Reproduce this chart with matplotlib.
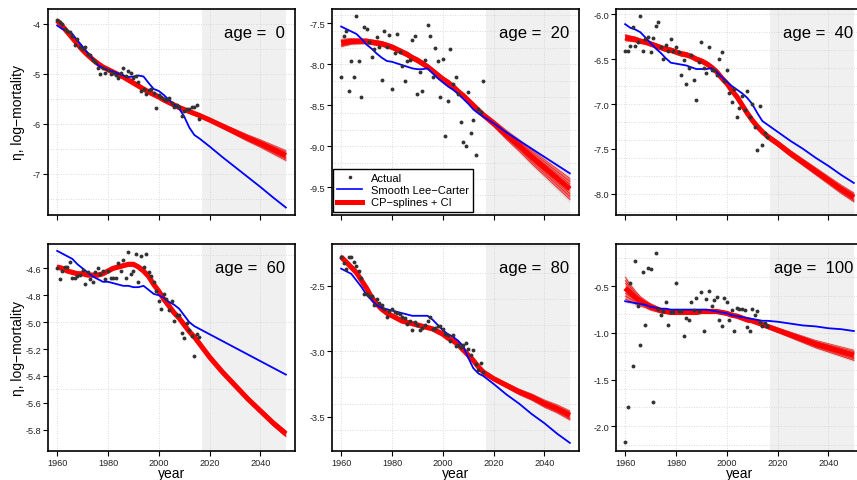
import numpy as np
import matplotlib
matplotlib.use("Agg")
import matplotlib.pyplot as plt
from matplotlib.lines import Line2D
from matplotlib.ticker import FixedLocator, FormatStrFormatter

plt.rcParams['font.family'] = ['Liberation Sans', 'DejaVu Sans']

# ---------------------------------------------------------------- data
obs_years = list(range(1960, 2017))
line_years = list(range(1960, 2017, 2)) + [2020, 2025, 2030, 2035, 2040, 2045, 2050]
ages = [0, 20, 40, 60, 80, 100]

# observed log-mortality
obs_age0 = [-3.92, -3.95, -4.00, -4.10, -4.13, -4.15, -4.23, -4.42, -4.29, -4.45,
            -4.49, -4.45, -4.60, -4.62, -4.71, -4.75, -4.87, -5.00, -4.89, -4.98,
            -4.92, -5.00, -4.97, -5.02, -5.07, -4.97, -4.87, -5.03, -4.93, -4.97,
            -5.07, -5.03, -5.15, -5.33, -5.30, -5.40, -5.32, -5.30, -5.38, -5.67,
            -5.42, -5.45, -5.50, -5.51, -5.47, -5.58, -5.65, -5.62, -5.65, -5.83,
            -5.73, -5.70, -5.70, -5.65, -5.65, -5.62, -5.90]
obs_age20 = [-8.15, -7.66, -7.60, -8.32, -7.96, -8.16, -7.41, -7.96, -8.40, -7.55,
             -7.57, -7.73, -7.91, -7.81, -7.67, -7.79, -8.19, -7.60, -7.79, -7.64,
             -8.30, -7.86, -7.63, -7.85, -8.02, -8.20, -7.96, -7.95, -7.71, -7.65,
             -8.36, -8.09, -8.33, -7.95, -7.52, -7.66, -8.15, -7.80, -7.96, -8.40,
             -7.94, -8.87, -8.45, -7.81, -8.24, -8.15, -8.36, -8.70, -8.95, -9.00,
             -8.34, -8.84, -8.68, -9.11, -8.55, -8.58, -8.20]
obs_age40 = [-6.41, -6.41, -6.35, -6.14, -6.35, -6.31, -6.02, -6.41, -6.28, -6.25,
             -6.42, -6.26, -6.13, -6.09, -6.37, -6.50, -6.34, -6.41, -6.27, -6.41,
             -6.37, -6.42, -6.68, -6.51, -6.78, -6.60, -6.45, -6.73, -6.96, -6.53,
             -6.31, -6.60, -6.65, -6.37, -6.62, -6.62, -6.68, -6.50, -6.42, -6.74,
             -6.62, -6.88, -6.98, -6.83, -7.14, -7.04, -6.91, -7.07, -6.85, -7.14,
             -7.00, -7.26, -7.51, -7.02, -7.46, -7.32, -7.37]
obs_age60 = [-4.60, -4.68, -4.62, -4.59, -4.59, -4.55, -4.67, -4.67, -4.66, -4.65,
             -4.61, -4.72, -4.63, -4.68, -4.70, -4.63, -4.60, -4.64, -4.62, -4.68,
             -4.62, -4.67, -4.67, -4.67, -4.56, -4.62, -4.54, -4.67, -4.48, -4.64,
             -4.62, -4.49, -4.70, -4.51, -4.59, -4.49, -4.63, -4.66, -4.70, -4.77,
             -4.84, -4.90, -4.79, -4.83, -4.91, -4.84, -4.99, -4.95, -4.95, -5.08,
             -5.12, -5.01, -5.06, -5.10, -5.25, -5.09, -5.11]
obs_age80 = [-2.28, -2.33, -2.37, -2.28, -2.28, -2.32, -2.35, -2.39, -2.44, -2.56,
             -2.56, -2.58, -2.58, -2.65, -2.60, -2.63, -2.65, -2.68, -2.74, -2.69,
             -2.68, -2.70, -2.71, -2.72, -2.74, -2.75, -2.79, -2.77, -2.84, -2.78,
             -2.80, -2.84, -2.82, -2.80, -2.77, -2.74, -2.83, -2.82, -2.81, -2.81,
             -2.83, -2.87, -2.88, -2.92, -2.88, -2.96, -2.95, -2.97, -2.95, -2.94,
             -2.98, -3.03, -2.99, -3.10, -3.14, -3.09, -3.16]
obs_age100 = [-2.17, -1.79, -0.46, -1.36, -0.23, -0.71, -1.13, -0.35, -0.92, -0.30,
              -0.31, -1.74, -0.14, -0.74, -0.81, -0.77, -0.67, -0.91, -0.78, -0.78,
              -0.46, -0.76, -0.76, -1.03, -0.84, -0.86, -0.67, -0.75, -0.63, -0.76,
              -0.56, -0.98, -0.64, -0.55, -0.71, -0.65, -0.61, -0.86, -0.93, -0.63,
              -0.67, -0.86, -0.75, -0.98, -0.73, -0.74, -0.74, -0.75, -0.94, -0.98,
              -0.74, -0.81, -0.77, -0.88, -0.93, -0.89, -0.93]

# smooth Lee-Carter fit and forecast
lc_age0 = [-4.03, -4.10, -4.13, -4.20, -4.33, -4.45, -4.58, -4.70, -4.82, -4.88,
           -4.92, -4.95, -4.99, -5.03, -5.06, -5.05, -5.03, -5.05, -5.18, -5.30,
           -5.34, -5.42, -5.52, -5.61, -5.69, -5.85, -6.07, -6.22, -6.29,
           -6.45, -6.66, -6.86, -7.06, -7.26, -7.47, -7.67]
lc_age20 = [-7.54, -7.57, -7.60, -7.63, -7.69, -7.76, -7.81, -7.87, -7.92, -7.96,
            -7.97, -7.99, -8.01, -8.03, -8.05, -8.06, -8.06, -8.05, -8.11, -8.17,
            -8.22, -8.27, -8.31, -8.36, -8.42, -8.48, -8.55, -8.60, -8.64,
            -8.72, -8.83, -8.93, -9.03, -9.13, -9.23, -9.33]
lc_age40 = [-6.11, -6.15, -6.17, -6.20, -6.26, -6.32, -6.38, -6.43, -6.49, -6.54,
            -6.55, -6.56, -6.57, -6.59, -6.61, -6.61, -6.61, -6.60, -6.64, -6.70,
            -6.75, -6.80, -6.84, -6.88, -6.93, -7.00, -7.10, -7.19, -7.23,
            -7.31, -7.41, -7.50, -7.60, -7.69, -7.79, -7.88]
lc_age60 = [-4.47, -4.49, -4.51, -4.53, -4.57, -4.60, -4.63, -4.66, -4.68, -4.70,
            -4.70, -4.71, -4.72, -4.73, -4.73, -4.74, -4.74, -4.73, -4.76, -4.79,
            -4.80, -4.82, -4.85, -4.87, -4.90, -4.95, -5.00, -5.03, -5.05,
            -5.09, -5.14, -5.19, -5.24, -5.29, -5.34, -5.39]
lc_age80 = [-2.37, -2.39, -2.41, -2.46, -2.51, -2.57, -2.61, -2.65, -2.67, -2.68,
            -2.69, -2.70, -2.71, -2.72, -2.73, -2.73, -2.73, -2.73, -2.76, -2.80,
            -2.84, -2.87, -2.89, -2.92, -2.96, -3.05, -3.13, -3.17, -3.19,
            -3.25, -3.33, -3.40, -3.48, -3.55, -3.63, -3.70]
lc_age100 = [-0.66, -0.67, -0.68, -0.69, -0.70, -0.72, -0.73, -0.74, -0.74, -0.75,
             -0.75, -0.75, -0.75, -0.75, -0.75, -0.75, -0.75, -0.76, -0.77, -0.78,
             -0.79, -0.81, -0.82, -0.83, -0.84, -0.85, -0.86, -0.87, -0.87,
             -0.88, -0.90, -0.92, -0.93, -0.95, -0.96, -0.98]

# CP-splines fit and forecast
cp_age0 = [-3.93, -4.04, -4.16, -4.28, -4.40, -4.52, -4.62, -4.71, -4.79, -4.86,
           -4.91, -4.96, -5.01, -5.06, -5.12, -5.18, -5.24, -5.30, -5.36, -5.41,
           -5.46, -5.52, -5.57, -5.62, -5.67, -5.71, -5.75, -5.79, -5.83,
           -5.92, -6.04, -6.16, -6.28, -6.39, -6.51, -6.63]
cp_age20 = [-7.74, -7.73, -7.72, -7.72, -7.72, -7.72, -7.73, -7.74, -7.75, -7.77,
            -7.79, -7.82, -7.85, -7.88, -7.92, -7.95, -7.99, -8.03, -8.08, -8.13,
            -8.18, -8.22, -8.27, -8.33, -8.38, -8.44, -8.50, -8.56, -8.62,
            -8.72, -8.86, -8.99, -9.13, -9.26, -9.39, -9.52]
cp_age40 = [-6.26, -6.27, -6.28, -6.30, -6.31, -6.33, -6.35, -6.37, -6.39, -6.40,
            -6.42, -6.44, -6.45, -6.47, -6.50, -6.52, -6.55, -6.59, -6.64, -6.71,
            -6.77, -6.85, -6.92, -7.01, -7.10, -7.18, -7.25, -7.31, -7.36,
            -7.44, -7.55, -7.65, -7.75, -7.85, -7.95, -8.04]
cp_age60 = [-4.59, -4.60, -4.62, -4.63, -4.64, -4.64, -4.65, -4.65, -4.65, -4.64,
            -4.62, -4.60, -4.59, -4.58, -4.57, -4.57, -4.59, -4.62, -4.66, -4.72,
            -4.77, -4.83, -4.88, -4.93, -4.97, -5.02, -5.07, -5.11, -5.16,
            -5.26, -5.37, -5.47, -5.57, -5.66, -5.75, -5.83]
cp_age80 = [-2.28, -2.32, -2.36, -2.40, -2.46, -2.52, -2.59, -2.64, -2.68, -2.71,
            -2.73, -2.75, -2.77, -2.78, -2.79, -2.80, -2.81, -2.82, -2.83, -2.85,
            -2.87, -2.90, -2.92, -2.95, -2.99, -3.03, -3.07, -3.12, -3.16,
            -3.21, -3.26, -3.31, -3.35, -3.40, -3.44, -3.49]
cp_age100 = [-0.52, -0.57, -0.62, -0.66, -0.69, -0.72, -0.74, -0.76, -0.77, -0.78,
             -0.78, -0.78, -0.78, -0.78, -0.78, -0.77, -0.77, -0.77, -0.77, -0.78,
             -0.79, -0.81, -0.82, -0.84, -0.86, -0.87, -0.89, -0.91, -0.93,
             -0.97, -1.02, -1.07, -1.12, -1.16, -1.20, -1.24]

# half-width of the CP-splines confidence band
ci_age0 = [0.030, 0.025, 0.022, 0.020, 0.020, 0.020, 0.020, 0.020, 0.020, 0.020,
           0.020, 0.020, 0.020, 0.020, 0.020, 0.020, 0.020, 0.020, 0.020, 0.020,
           0.020, 0.020, 0.020, 0.020, 0.020, 0.022, 0.024, 0.026, 0.028,
           0.035, 0.045, 0.055, 0.065, 0.075, 0.088, 0.100]
ci_age20 = [0.045, 0.040, 0.035, 0.032, 0.030, 0.030, 0.030, 0.030, 0.030, 0.030,
            0.030, 0.030, 0.030, 0.030, 0.030, 0.030, 0.030, 0.030, 0.030, 0.030,
            0.030, 0.030, 0.030, 0.030, 0.030, 0.030, 0.030, 0.030, 0.032,
            0.040, 0.055, 0.070, 0.085, 0.100, 0.115, 0.130]
ci_age40 = [0.035, 0.030, 0.028, 0.025, 0.025, 0.025, 0.025, 0.025, 0.025, 0.025,
            0.025, 0.025, 0.025, 0.025, 0.025, 0.025, 0.025, 0.025, 0.025, 0.025,
            0.025, 0.025, 0.025, 0.025, 0.025, 0.025, 0.025, 0.026, 0.028,
            0.030, 0.033, 0.036, 0.040, 0.043, 0.047, 0.050]
ci_age60 = [0.014, 0.013, 0.012, 0.012, 0.012, 0.012, 0.012, 0.012, 0.012, 0.012,
            0.012, 0.012, 0.012, 0.012, 0.012, 0.012, 0.012, 0.012, 0.012, 0.012,
            0.012, 0.012, 0.012, 0.012, 0.012, 0.012, 0.012, 0.012, 0.013,
            0.014, 0.015, 0.016, 0.017, 0.018, 0.020, 0.022]
ci_age80 = [0.014, 0.013, 0.012, 0.012, 0.012, 0.012, 0.012, 0.012, 0.012, 0.012,
            0.012, 0.012, 0.012, 0.012, 0.012, 0.012, 0.012, 0.012, 0.012, 0.012,
            0.012, 0.012, 0.012, 0.012, 0.012, 0.012, 0.012, 0.012, 0.013,
            0.015, 0.018, 0.021, 0.024, 0.028, 0.031, 0.035]
ci_age100 = [0.120, 0.090, 0.070, 0.050, 0.040, 0.035, 0.030, 0.025, 0.022, 0.020,
             0.020, 0.020, 0.020, 0.020, 0.020, 0.020, 0.020, 0.020, 0.020, 0.020,
             0.020, 0.020, 0.020, 0.020, 0.020, 0.020, 0.020, 0.020, 0.022,
             0.025, 0.030, 0.035, 0.040, 0.045, 0.050, 0.055]

legend_labels = ["Actual", "Smooth Lee\u2212Carter", "CP\u2212splines + CI"]

# ---------------------------------------------------------------- layout
W, H = 857, 481
fig = plt.figure(figsize=(W / 100, H / 100), dpi=100)


def px_rect(left, top, w, h):
    return [left / W, 1 - (top + h) / H, w / W, h / H]


panels = [
    dict(obs=obs_age0, lc=lc_age0, cp=cp_age0, ci=ci_age0, rect=px_rect(48, 10, 247, 206),
         ylim=(-7.82, -3.70), yticks=[-7, -6, -5, -4], fmt='%.0f', grid=0.5),
    dict(obs=obs_age20, lc=lc_age20, cp=cp_age20, ci=ci_age20, rect=px_rect(332, 10, 247, 206),
         ylim=(-9.838, -7.326), yticks=[-9.5, -9.0, -8.5, -8.0, -7.5], fmt='%.1f', grid=0.2),
    dict(obs=obs_age40, lc=lc_age40, cp=cp_age40, ci=ci_age40, rect=px_rect(616, 10, 247, 206),
         ylim=(-8.237, -5.941), yticks=[-8.0, -7.5, -7.0, -6.5, -6.0], fmt='%.1f', grid=0.2),
    dict(obs=obs_age60, lc=lc_age60, cp=cp_age60, ci=ci_age60, rect=px_rect(48, 245, 247, 207),
         ylim=(-5.958, -4.419), yticks=[-5.8, -5.6, -5.4, -5.2, -5.0, -4.8, -4.6], fmt='%.1f', grid=0.5),
    dict(obs=obs_age80, lc=lc_age80, cp=cp_age80, ci=ci_age80, rect=px_rect(332, 245, 247, 207),
         ylim=(-3.762, -2.182), yticks=[-3.5, -3.0, -2.5], fmt='%.1f', grid=0.2),
    dict(obs=obs_age100, lc=lc_age100, cp=cp_age100, ci=ci_age100, rect=px_rect(616, 245, 247, 207),
         ylim=(-2.267, -0.046), yticks=[-2.0, -1.5, -1.0, -0.5], fmt='%.1f', grid=0.2),
]

forecast_start, forecast_end = 2017, 2050
xticks = [1960, 1980, 2000, 2020, 2040]
grid_kw = dict(color='#cfcfcf', lw=0.6, ls=(0, (1, 2)), zorder=0.5)

yrs = np.array(line_years)
for k, (age, p) in enumerate(zip(ages, panels)):
    ax = fig.add_axes(p['rect'])
    ax.set_xlim(1956.4, 2053.6)
    ax.set_ylim(*p['ylim'])

    # forecast period shading
    ax.axvspan(forecast_start, forecast_end, color='#f0f0f0', lw=0, zorder=0)

    # dotted grid
    for gx in xticks:
        ax.axvline(gx, **grid_kw)
    lo_g = np.ceil(p['ylim'][0] / p['grid'] - 1e-9) * p['grid']
    for gy in np.arange(lo_g, p['ylim'][1], p['grid']):
        ax.axhline(gy, **grid_kw)

    cp = np.array(p['cp'])
    ci = np.array(p['ci'])
    # confidence band
    ax.fill_between(yrs, cp - 1.3 * ci, cp + 1.3 * ci, color='#dcc8c8', alpha=0.6, lw=0, zorder=1)
    ax.fill_between(yrs, cp - ci, cp + ci, color='#ff2020', alpha=0.55, lw=0, zorder=1.1)
    for f in (1.0, 0.7, 0.45, -0.45, -0.7, -1.0):
        ax.plot(yrs, cp + f * ci, color='#e00000', lw=0.5, alpha=0.8, zorder=1.2)
    ax.plot(yrs, cp, color='red', lw=3.7, zorder=2, solid_capstyle='butt')
    ax.plot(yrs, p['lc'], color='blue', lw=1.3, zorder=3)
    ax.plot(obs_years, p['obs'], 'o', ms=2.8, color='#333333', mec='none', zorder=4)

    # axes styling
    for s in ax.spines.values():
        s.set_linewidth(1.2)
        s.set_zorder(5)
    ax.xaxis.set_major_locator(FixedLocator(xticks))
    ax.yaxis.set_major_locator(FixedLocator(p['yticks']))
    ax.yaxis.set_major_formatter(FormatStrFormatter(p['fmt']))
    ax.tick_params(direction='out', length=3.5, width=0.8, labelsize=6.6, pad=1.5,
                   labelcolor='#222222')
    if k < 3:
        ax.tick_params(axis='x', labelbottom=False)
    else:
        ax.set_xlabel('year', fontsize=10)
        ax.xaxis.set_label_coords(0.5, -0.072)
    if k % 3 == 0:
        ax.set_ylabel('\u03b7, log\u2212mortality', fontsize=10)
        ax.yaxis.set_label_coords(-0.092, 0.5)

    ax.text(0.96, 0.865, f'age =  {age}', transform=ax.transAxes,
            ha='right', va='baseline', fontsize=12, zorder=6)

    if k == 1:
        handles = [Line2D([], [], marker='o', ls='none', color='#333333', ms=2.6, mec='none'),
                   Line2D([], [], color='blue', lw=1.2),
                   Line2D([], [], color='red', lw=3.6)]
        leg = ax.legend(handles, legend_labels, loc='lower left', bbox_to_anchor=(0.004, 0.015),
                        fontsize=8, frameon=True, fancybox=False, edgecolor='black',
                        framealpha=1, borderpad=0.4, handlelength=2.2, handletextpad=0.8,
                        labelspacing=0.2, borderaxespad=0)
        leg.get_frame().set_linewidth(1.0)
        leg.set_zorder(10)

fig.savefig('out.png', dpi=100)
